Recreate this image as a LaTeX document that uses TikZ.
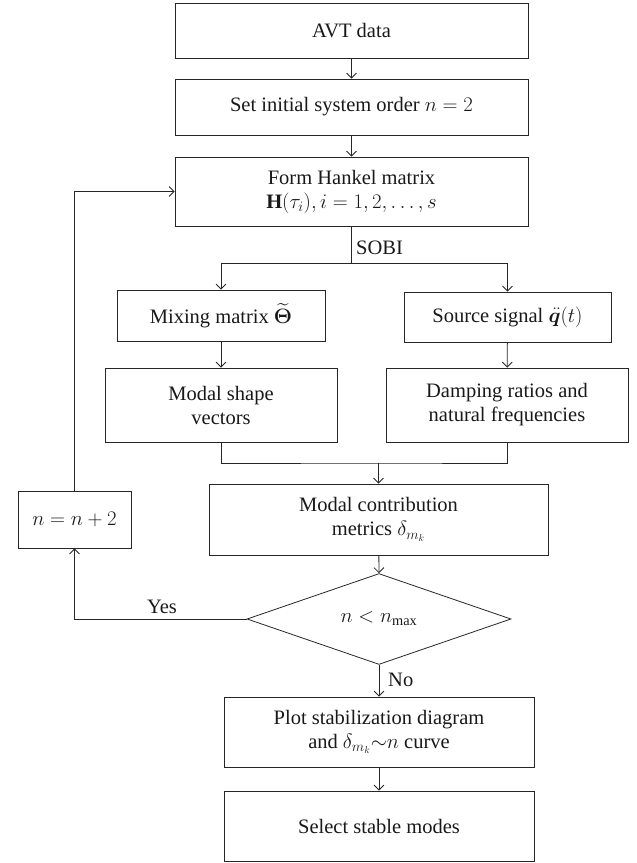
\documentclass[tikz,border=0pt]{standalone}
\usepackage{amsmath,bm}
\usepackage{fontspec}
\setmainfont{Liberation Serif}
\usetikzlibrary{arrows.meta,shapes.geometric}
\newcommand{\fs}{\fontsize{20.5}{24}\selectfont}
\begin{document}
\begin{tikzpicture}[x=1pt,y=-1pt,
  box/.style={draw=black!85, line width=0.8pt, align=center, inner sep=2pt, font=\fs, text=black!90},
  arr/.style={-{Straight Barb[length=5pt,width=10pt]}, line width=0.8pt, draw=black!85},
  ln/.style={line width=0.8pt, draw=black!85},
  lab/.style={font=\fs, text=black!90, inner sep=1pt}]
\useasboundingbox (0,0) rectangle (637,863);
\node[box, minimum width=353pt, minimum height=55pt] (avt) at (351.5,30.5) {AVT data};
\node[box, minimum width=353pt, minimum height=56pt] (init) at (351.5,107) {Set initial system order $n = 2$};
\node[box, minimum width=353pt, minimum height=69pt] (hankel) at (351.5,191.5) {Form Hankel matrix\\ $\mathbf{H}(\tau_i), i = 1, 2, \ldots, s$};
\node[box, minimum width=208pt, minimum height=51pt] (mix) at (221,315.5) {Mixing matrix $\widetilde{\bm{\Theta}}$};
\node[box, minimum width=207pt, minimum height=50pt] (src) at (507.5,317) {Source signal $\ddot{\bm{q}}(t)$};
\node[box, minimum width=232pt, minimum height=74pt] (shape) at (221,405) {Modal shape\\ vectors};
\node[box, minimum width=242pt, minimum height=74pt] (damp) at (507,405) {Damping ratios and\\ natural frequencies};
\node[box, minimum width=339pt, minimum height=71pt] (contrib) at (378.5,519.5) {Modal contribution\\ metrics $\delta_{m_k}$};
\node[box, minimum width=113pt, minimum height=57pt] (inc) at (74.5,519.5) {$n = n + 2$};
\node[box, diamond, minimum width=264pt, minimum height=84pt, inner sep=0pt] (dec) at (379,619) {$n < n_{\max}$};
\node[box, minimum width=310pt, minimum height=70pt] (plot) at (379,732) {Plot stabilization diagram\\ and $\delta_{m_k}{\sim}n$ curve};
\node[box, minimum width=310pt, minimum height=70pt] (sel) at (379,826) {Select stable modes};
\coordinate (split) at (351.5,263);
\coordinate (merge) at (378.5,463);
\draw[arr] (avt) -- (init);
\draw[arr] (init) -- (hankel);
\draw[ln] (hankel.south) -- (split);
\draw[arr] (split) -| (mix.north);
\draw[arr] (split) -| (src.north);
\node[lab, anchor=west] (sobi) at (355,248) {SOBI};
\draw[arr] (mix) -- (shape);
\draw[arr] (src) -- (damp);
\draw[ln] (shape.south) |- (merge) -| (damp.south);
\draw[arr] (merge) -- (contrib.north);
\draw[arr] (contrib) -- (dec.north);
\draw[arr] (dec.west) -| (inc.south);
\node[lab] (yes) at (162,607) {Yes};
\draw[arr] (inc.north) |- (hankel.west);
\draw[arr] (dec.south) -- (plot.north);
\node[lab, anchor=west] (no) at (387,680) {No};
\draw[arr] (plot) -- (sel);
\end{tikzpicture}
\end{document}
